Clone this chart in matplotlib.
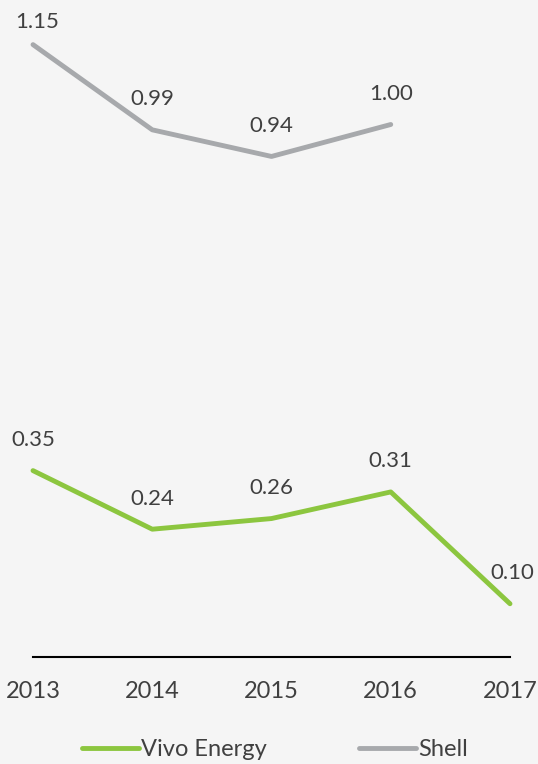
import matplotlib
matplotlib.use("Agg")
import matplotlib.pyplot as plt

years = [2013, 2014, 2015, 2016, 2017]
vivo = [0.35, 0.24, 0.26, 0.31, 0.10]
shell_years = [2013, 2014, 2015, 2016]
shell = [1.15, 0.99, 0.94, 1.00]
vivo_labels = ["0.35", "0.24", "0.26", "0.31", "0.10"]
shell_labels = ["1.15", "0.99", "0.94", "1.00"]

plt.rcParams['font.family'] = ['Lato', 'DejaVu Sans']
bg = '#f5f5f5'
txt = '#404040'
green = '#8cc63f'
gray = '#a7a9ac'

fig = plt.figure(figsize=(5.38, 7.64), dpi=100, facecolor=bg)
W, H = 538, 764
x0, x1 = 33, 510
y0 = 657
ymax = 1.2
ytop = y0 - ymax * 532.5
ax = fig.add_axes([x0 / W, (H - y0) / H, (x1 - x0) / W, (y0 - ytop) / H])
ax.set_facecolor(bg)
ax.set_xlim(2013, 2017)
ax.set_ylim(0, ymax)

l1, = ax.plot(years, vivo, color=green, lw=3.5, solid_capstyle='round',
              clip_on=False, label='Vivo Energy')
l2, = ax.plot(shell_years, shell, color=gray, lw=3.5, solid_capstyle='round',
              clip_on=False, label='Shell')

for x, y, s in zip(years, vivo, vivo_labels):
    dx = 2 if x == 2017 else 0
    ax.annotate(s, (x, y), xytext=(dx, 22), textcoords='offset points',
                ha='center', va='center', fontsize=16, color=txt,
                annotation_clip=False)
for x, y, s in zip(shell_years, shell, shell_labels):
    dy = 16 if y == max(shell) else 22
    dx = 3 if x == 2013 else 0
    ax.annotate(s, (x, y), xytext=(dx, dy), textcoords='offset points',
                ha='center', va='center', fontsize=16, color=txt,
                annotation_clip=False)

for sp in ['top', 'right', 'left']:
    ax.spines[sp].set_visible(False)
ax.spines['bottom'].set_color('black')
ax.spines['bottom'].set_linewidth(1.5)
ax.set_yticks([])
ax.set_xticks(years)
ax.set_xticklabels([str(y) for y in years], fontsize=17, color=txt)
ax.tick_params(axis='x', length=0, pad=17)

leg = fig.legend(handles=[l1, l2], loc='center', ncol=2,
                 bbox_to_anchor=(275 / W, (H - 750) / H), frameon=False,
                 fontsize=17, handlelength=2.4, handletextpad=0.1,
                 columnspacing=3.9, labelcolor=txt)

fig.savefig('out.png', dpi=100, facecolor=bg)
